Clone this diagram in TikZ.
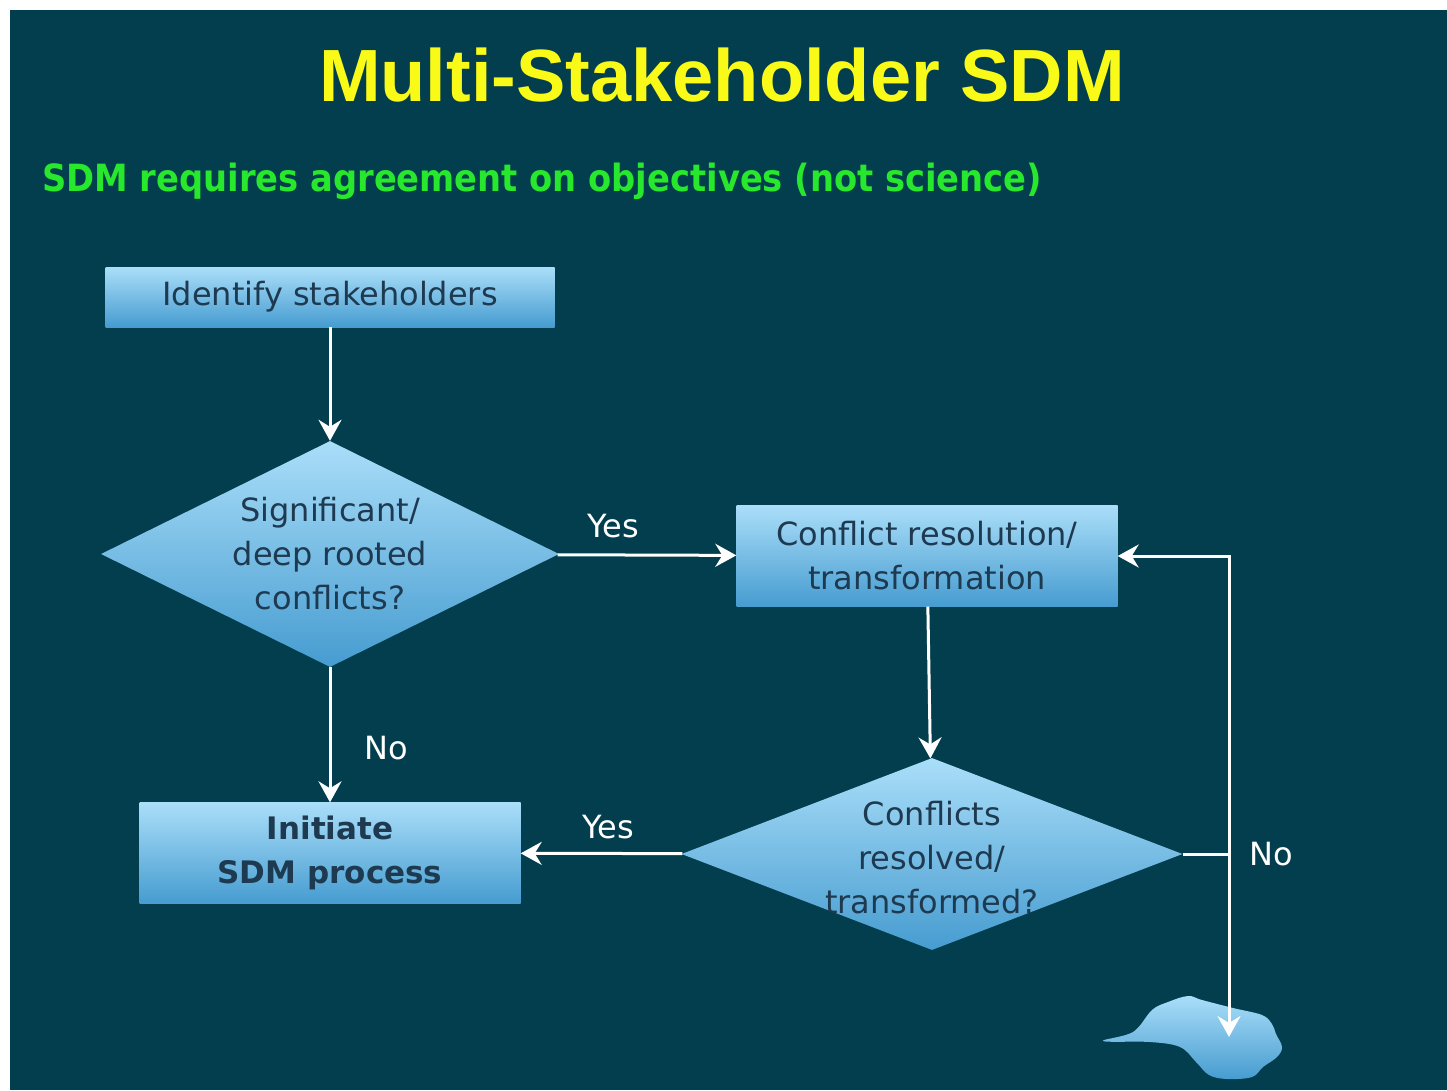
\documentclass[tikz,border=0pt]{standalone}
\usepackage{fontspec}
\setmainfont{DejaVu Sans}
\newfontfamily\titlefont{Liberation Sans}
\newfontfamily\subfont{DejaVu Sans Condensed}
\usepackage{tikz}
\usetikzlibrary{shapes.geometric, arrows.meta}
\definecolor{slidebg}{RGB}{2,62,77}
\definecolor{boxtop}{RGB}{170,222,249}
\definecolor{boxbot}{RGB}{70,156,208}
\definecolor{boxtext}{RGB}{30,58,80}
\definecolor{titleyellow}{RGB}{250,250,25}
\definecolor{subgreen}{RGB}{40,232,45}
\tikzstyle{process} = [rectangle, minimum width=381pt, minimum height=101pt, inner sep=0pt, text centered, align=center, top color=boxtop, bottom color=boxbot, text=boxtext, font=\fontsize{32}{44}\selectfont]
\tikzstyle{decision} = [diamond, inner sep=0pt, top color=boxtop, bottom color=boxbot]
\tikzstyle{dtext} = [inner sep=0pt, align=center, text=boxtext, font=\fontsize{32}{44}\selectfont]
\tikzstyle{arrow} = [white, line width=3pt, -{Stealth[length=21pt,width=23pt,inset=7pt]}]
\tikzstyle{answer} = [white, font=\fontsize{32}{36}\selectfont]

\begin{document}
\begin{tikzpicture}[x=1pt, y=-1pt, node distance=257pt]
    \useasboundingbox (0,0) rectangle (1447,1090);
    \fill[slidebg] (10,10) rectangle (1447,1090);
    % Heading
    \node (title) [text=titleyellow, font=\titlefont\bfseries\fontsize{74}{80}\selectfont] at (722,75) {Multi-Stakeholder SDM};
    \node (subtitle) [anchor=west, inner sep=0pt, text=subgreen, font=\subfont\bfseries\fontsize{37.5}{42}\selectfont] at (42,181) {SDM requires agreement on objectives (not science)};
    % Nodes
    \node (identify) [process, minimum width=449pt, minimum height=60pt] at (330,297) {Identify stakeholders};
    \node (deep) [decision, below of=identify, minimum width=458pt, minimum height=226pt, label={[dtext]center:{Significant/\\deep rooted\\conflicts?}}] {};
    \node (initiate) [process, node distance=299pt, below of=deep, font=\bfseries\fontsize{31}{44}\selectfont] {Initiate\\SDM process};
    \node (conflict) [process, node distance=597pt, right of=deep, yshift=-2pt] {Conflict resolution/\\transformation};
    \node (resolved) [decision, node distance=298pt, below of=conflict, xshift=5pt, minimum width=501pt, minimum height=192pt, label={[dtext, yshift=-4pt]center:{Conflicts\\resolved/\\transformed?}}] {};
    \coordinate (split) at (1229,854);
    \coordinate (sink) at (1229,1037);
    % Outcome blob
    \shade[top color=boxtop, bottom color=boxbot] plot[smooth cycle, tension=0.6] coordinates {(1103,1041) (1133,1032) (1152,1010) (1168,1002) (1188,996) (1202,1000) (1233,1008) (1262,1015) (1272,1024) (1276,1034) (1282,1047) (1277,1057) (1263,1067) (1252,1077) (1227,1079) (1209,1075) (1196,1062) (1180,1047) (1150,1042)};
    % Arrows
    \draw [arrow] (identify) -- (deep);
    \draw [arrow] (deep) -- node[answer, pos=0.31, above, yshift=12pt] {Yes} (conflict);
    \draw [arrow] (deep) -- node[answer, pos=0.6, right, xshift=30pt] {No} (initiate);
    \draw [arrow] (conflict) -- (resolved);
    \draw [arrow] (resolved) -- node[answer, pos=0.46, above, yshift=10pt] {Yes} (initiate);
    \draw [white, line width=3pt] (resolved.east) -- (split) node[answer, right, xshift=16pt] {No};
    \draw [arrow] (split) |- (conflict.east);
    \draw [arrow] (split) -- (sink);
\end{tikzpicture}
\end{document}
